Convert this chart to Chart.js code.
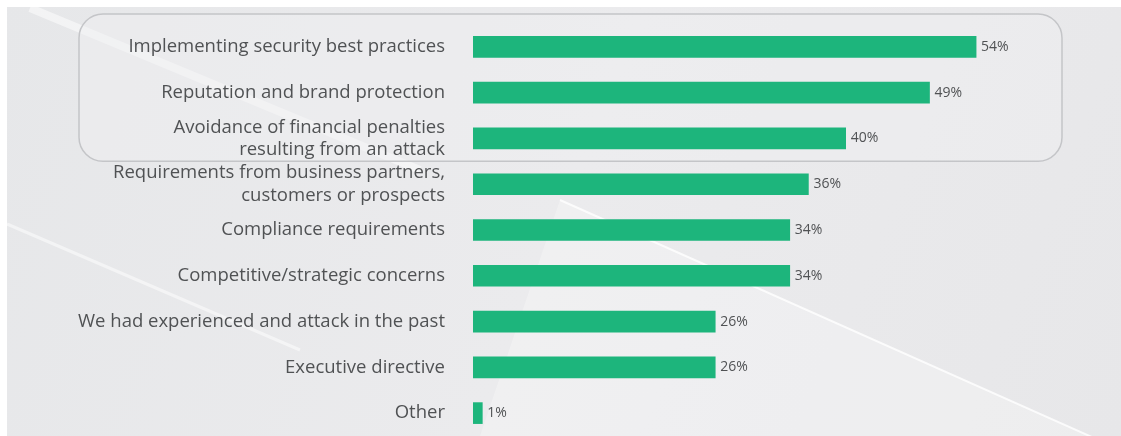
<!DOCTYPE html>
<html>
<head>
<meta charset="utf-8">
<script src="https://cdn.jsdelivr.net/npm/chart.js@4.4.1/dist/chart.umd.min.js"></script>
<style>
  html, body { margin: 0; padding: 0; background: #ffffff; }
  #wrap { position: relative; width: 1121px; height: 436px; }
</style>
</head>
<body>
<div id="wrap"><canvas id="myChart" width="1121" height="436"></canvas></div>
<script>
// drivers, top to bottom
const drivers = [
    'Implementing security best practices',
    'Reputation and brand protection',
    ['Avoidance of financial penalties', 'resulting from an attack'],
    ['Requirements from business partners,', 'customers or prospects'],
    'Compliance requirements',
    'Competitive/strategic concerns',
    'We had experienced and attack in the past',
    'Executive directive',
    'Other'
];
// share of respondents, percent
const shares = [54, 49, 40, 36, 34, 34, 26, 26, 1];
// how many of the top rows sit inside the rounded frame
const highlighted = 3;

const barColor = '#1db57c';
const textColor = '#505254';

// page background: light grey with a couple of soft diagonal streaks
const backdrop = {
    id: 'backdrop',
    beforeDraw(chart) {
        const { ctx, width, height } = chart;
        ctx.save();
        ctx.fillStyle = '#ffffff';
        ctx.fillRect(0, 0, width, height);
        const g = ctx.createLinearGradient(0, 0, width, height);
        g.addColorStop(0, '#e6e7e9');
        g.addColorStop(0.5, '#ebebed');
        g.addColorStop(1, '#e7e7e9');
        ctx.fillStyle = g;
        ctx.fillRect(7, 7, width - 7, height - 7);

        // lighter band below the right-hand streak
        ctx.beginPath();
        ctx.moveTo(560, 200);
        ctx.lineTo(width, 450);
        ctx.lineTo(width, height);
        ctx.lineTo(480, height);
        ctx.closePath();
        ctx.fillStyle = 'rgba(255,255,255,0.25)';
        ctx.fill();

        ctx.strokeStyle = 'rgba(255,255,255,0.8)';
        ctx.lineWidth = 2;
        ctx.beginPath();
        ctx.moveTo(560, 200);
        ctx.lineTo(width, 450);
        ctx.stroke();

        ctx.strokeStyle = 'rgba(255,255,255,0.5)';
        ctx.lineWidth = 3;
        ctx.beginPath();
        ctx.moveTo(7, 224);
        ctx.lineTo(300, 350);
        ctx.stroke();

        ctx.strokeStyle = 'rgba(255,255,255,0.5)';
        ctx.lineWidth = 8;
        ctx.beginPath();
        ctx.moveTo(30, 8);
        ctx.lineTo(420, 170);
        ctx.stroke();
        ctx.restore();
    }
};

// rounded frame around the leading drivers, drawn under the labels
const frame = {
    id: 'frame',
    beforeDraw(chart) {
        const { ctx } = chart;
        const y = chart.scales.y;
        const top = y.getPixelForValue(0) - 33;
        const bottom = (y.getPixelForValue(highlighted - 1) + y.getPixelForValue(highlighted)) / 2;
        const left = 79, right = 1062;
        ctx.save();
        ctx.beginPath();
        ctx.roundRect(left, top, right - left, bottom - top, 24);
        ctx.fillStyle = 'rgba(240,240,241,0.45)';
        ctx.fill();
        ctx.lineWidth = 1.5;
        ctx.strokeStyle = '#c4c5c8';
        ctx.stroke();
        ctx.restore();
    }
};

// percent labels at the bar ends
const valueLabels = {
    id: 'valueLabels',
    afterDatasetsDraw(chart) {
        const { ctx } = chart;
        const meta = chart.getDatasetMeta(0);
        ctx.save();
        ctx.font = '14px "Open Sans"';
        ctx.fillStyle = textColor;
        ctx.textBaseline = 'middle';
        meta.data.forEach((bar, i) => {
            ctx.fillText(shares[i] + '%', bar.x + 5, bar.y);
        });
        ctx.restore();
    }
};

const ctx = document.getElementById('myChart').getContext('2d');
const myChart = new Chart(ctx, {
    type: 'bar',
    data: {
        labels: drivers,
        datasets: [{
            data: shares,
            backgroundColor: barColor,
            borderWidth: 0,
            barThickness: 21
        }]
    },
    options: {
        indexAxis: 'y',
        responsive: false,
        animation: false,
        layout: { padding: { top: 24, right: 89, bottom: 0, left: 0 } },
        scales: {
            x: {
                display: false,
                min: 0,
                max: 60
            },
            y: {
                grid: { display: false, drawTicks: false },
                border: { display: false },
                ticks: {
                    color: textColor,
                    font: { family: 'Open Sans', size: 18.5, lineHeight: 1.2 },
                    padding: 28,
                    autoSkip: false
                },
                afterFit(scale) {
                    scale.width = 473;
                    // rows use the full height; layout padding handles the top
                    scale.paddingTop = 0;
                    scale.paddingBottom = 0;
                }
            }
        },
        plugins: {
            legend: { display: false },
            tooltip: { enabled: false }
        }
    },
    plugins: [backdrop, frame, valueLabels]
});
</script>
</body>
</html>
